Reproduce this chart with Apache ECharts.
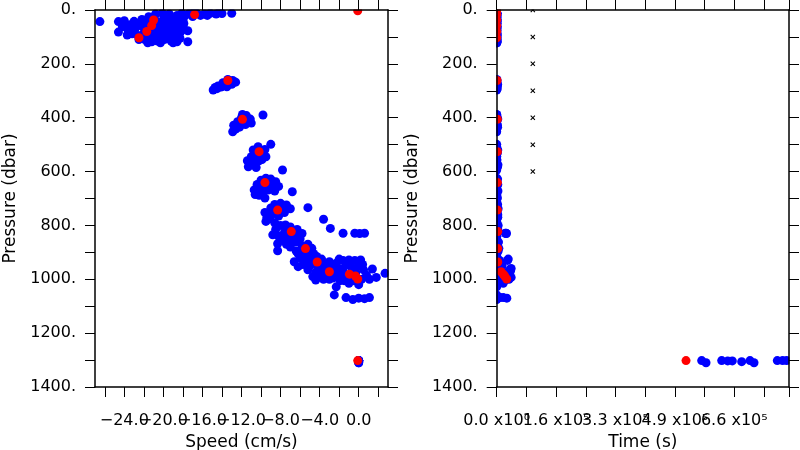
<!DOCTYPE html>
<html><head><meta charset="utf-8">
<script src="https://cdn.jsdelivr.net/npm/echarts@6/dist/echarts.min.js"></script>
<style>html,body{margin:0;padding:0;background:#fff}#c{width:800px;height:450px}</style>
</head><body><div id="c"></div>
<script>
// each point: [speed (cm/s), pressure (dbar), time (s)]
const blueSurface = [
[-26.5,43,0],
[-24.6,43,0],[-24.0,40,500],[-24.6,82,0],[-23.7,93,800],[-23.4,55,300],[-23.0,42,0],[-22.9,70,600],[-22.6,95,0],
[-24.2,62,0],[-23.6,75,0],[-23.2,88,0],[-22.6,50,0],[-22.5,110,0],
[-22.2,35,1000],[-22.2,60,0],[-22.0,85,400],[-21.9,110,0],
[-21.5,25,0],[-21.5,50,700],[-21.4,75,0],[-21.3,100,1200],[-21.2,118,0],
[-20.8,15,0],[-20.8,40,0],[-20.7,65,900],[-20.6,90,0],[-20.6,115,500],
[-20.1,12,0],[-20.0,35,600],[-20.0,60,0],[-19.9,85,0],[-19.9,110,1000],[-20.3,122,0],
[-19.4,15,300],[-19.3,40,0],[-19.3,65,0],[-19.2,90,700],[-19.2,115,0],
[-18.6,20,0],[-18.6,45,900],[-18.5,70,0],[-18.5,95,0],[-18.6,118,400],
[-18.1,12,0],[-18.0,35,0],[-18.2,60,500],[-18.3,85,0],[-18.3,105,0],
[-21.8,45,0],[-21.1,28,0],[-21.0,88,0],[-20.4,52,0],[-20.3,78,0],[-20.2,100,0],[-19.6,28,0],
[-19.6,52,0],[-19.6,78,0],[-19.5,102,0],[-18.9,30,0],[-18.9,58,0],[-18.9,82,0],[-18.9,108,0],
[-21.6,122,0],[-19.0,122,0],[-17.8,22,0],[-17.9,50,0],[-17.9,72,0],
[-17.5,77,0],[-17.5,118,1200],
[-17.4,14,0],[-17.0,24,600],[-16.6,12,0],[-16.2,20,0],[-15.8,15,800],[-15.2,12,0],[-14.6,15,0],[-14.0,13,500],
[-16.9,10,0],[-15.5,20,0],[-14.3,10,0],
[-13.0,12,0]
];
const blue260 = [
[-14.9,297,0],[-14.5,292,1500],[-14.1,286,0],[-13.7,280,2000],[-13.3,272,0],[-12.9,262,1000],
[-13.4,258,0],[-13.9,270,0],[-13.0,276,2500],[-14.4,282,0],[-12.6,268,0],[-14.7,288,0],[-13.5,285,0]
];
const blue410 = [
[-12.9,452,0],[-12.8,428,2000],[-12.4,415,0],[-12.0,400,1500],[-11.5,392,0],[-11.1,405,3000],[-11.0,420,0],
[-11.6,425,0],[-12.2,435,2500],[-12.6,442,0],[-11.9,388,0],[-11.8,412,0],[-12.3,422,0],[-11.4,410,0],[-9.8,390,0]
];
const blue530 = [
[-11.4,560,0],[-11.3,582,2500],[-11.0,545,0],[-10.8,520,3000],[-10.5,535,0],[-10.3,508,0],[-10.0,530,2000],
[-9.6,518,0],[-9.5,545,0],[-10.2,560,0],[-10.8,575,3500],[-9.9,555,0],[-10.5,585,0],[-10.6,555,0],
[-10.2,520,0],[-11.0,565,0],[-9.0,499,0]
];
const blue650 = [
[-10.7,668,0],[-10.4,648,3000],[-10.0,632,0],[-9.5,625,0],[-9.0,628,2500],[-8.5,638,0],[-8.2,655,0],
[-8.6,672,3500],[-9.2,668,0],[-9.8,680,0],[-9.6,698,2000],[-10.2,688,0],[-9.0,652,0],[-10.6,685,0],
[-9.8,655,0],[-10.3,668,0],[-8.8,662,0],[-9.4,640,0],
[-7.8,594,0],[-6.8,675,0]
];
const blue740 = [
[-9.6,752,0],[-9.4,770,3000],[-9.5,785,0],[-9.0,735,0],[-8.6,722,2500],[-8.0,718,0],[-7.4,724,0],
[-7.0,738,4000],[-7.6,752,0],[-8.2,765,0],[-8.6,790,0],[-8.9,760,3000],[-8.4,742,0],[-7.8,738,0],
[-9.1,775,0],[-8.0,752,0],[-5.2,734,0]
];
const blueDeep = [
[-3.6,777,0],[-2.9,811,0],[-1.6,829,0],[-0.4,829,24000],[0.1,830,27000],[0.6,829,26000],
[-8.8,835,0],[-8.5,815,0],[-8.0,800,4000],[-7.5,798,0],[-7.0,806,0],[-6.3,815,3000],[-5.8,830,0],
[-6.0,850,0],[-6.5,862,5000],[-7.3,842,0],[-7.8,855,0],[-8.3,868,0],[-7.0,880,0],[-6.4,895,4000],[-8.3,894,0],
[-8.2,840,0],[-7.6,825,0],[-6.8,828,0],[-6.4,840,0],[-7.0,858,0],[-7.4,870,0],
[-5.8,875,0],[-5.2,870,0],[-4.8,885,6000],[-4.6,905,0],[-5.5,905,0],[-6.0,920,0],[-6.6,935,0],
[-5.9,890,0],[-6.2,905,0],[-5.0,915,0],[-5.6,925,0],[-4.0,935,0],[-3.0,935,0],[-3.6,958,0],
[-5.3,930,8000],[-4.8,930,0],[-4.3,915,0],[-3.8,925,0],[-3.5,945,10000],[-4.2,955,0],[-5.0,950,0],
[-5.7,945,0],[-6.2,953,0],[-5.2,965,0],[-4.4,975,0],[-4.0,990,12000],[-4.4,1003,0],[-4.7,990,0],
[-3.6,970,0],[-3.2,960,0],[-2.8,950,15000],[-2.3,940,0],[-2.0,925,32000],[-1.6,930,0],[-1.0,928,0],
[-0.4,930,30000],[0.2,928,0],[-1.3,945,0],[-2.0,960,0],[-2.6,975,20000],[-2.2,990,0],[-3.0,1000,0],
[-3.4,985,0],[-1.6,970,38000],[-1.2,985,0],[-0.6,960,40000],[0.0,950,0],[0.5,965,36000],[0.8,985,0],
[-2.8,962,0],[-1.8,985,0],[-0.9,950,0],[-0.3,975,0],[0.4,945,0],[-2.6,995,0],[-1.9,1005,0],[-3.6,1000,0],
[0.3,1000,34000],[-0.5,1005,0],[-1.5,1005,22000],[-2.3,1028,0],[-2.5,1058,0],[1.4,962,0],[1.8,993,40000],
[2.7,978,0],[1.1,1000,0],[-1.0,1015,18000],[0.0,1020,0],
[-1.3,1068,18000],[-0.6,1075,0],[0.0,1070,28000],[0.6,1072,0],[1.1,1068,9000]
];
const blueBottom = [
[0.0,1302,567700],[0.0,1310,579700],[0.0,1302,623100],[0.0,1303,639700],[0.0,1303,652500],
[0.0,1306,678500],[0.0,1302,701500],[0.0,1310,712600],[0.0,1302,777100],[0.0,1302,791800],[0.0,1302,803000]
];
const redPoints = [
[-0.1,3,0],
[-16.8,17,0],[-21.0,37,0],[-21.2,58,0],[-21.7,80,0],[-22.5,103,0],
[-13.4,262,1000],[-11.9,406,2000],[-10.2,526,2000],[-9.6,641,2000],[-8.3,743,2000],[-6.9,823,3000],
[-5.45,886,3000],[-4.25,936,3000],[-3.0,972,12000],[-0.95,981,18000],[-0.34,988,22000],[-0.1,999,27700],
[-0.1,1302,524300]
];
// small black crosses on the time panel
const crossTime = 100000;
const crossPressures = [0,100,200,300,400,500,600];

// axis ticks / labels (labels split in two alternating sets so that overlapping labels are all drawn)
const speedTicks = [-26,-24,-22,-20,-18,-16,-14,-12,-10,-8,-6,-4,-2,0,2];
const speedLabelsA = [-24,-16,-8,0];
const speedLabelsB = [-20,-12,-4];
const pressureTicks = [0,100,200,300,400,500,600,700,800,900,1000,1100,1200,1300,1400];
const pressureLabels = [0,200,400,600,800,1000,1200,1400];
const timeLabelValuesA = [0,329000,658000];
const timeLabelValuesB = [164500,493500];
const timeLabelText = {0:'0.0 x10\u2070', 164500:'1.6 x10\u2075', 329000:'3.3 x10\u2075', 493500:'4.9 x10\u2075', 658000:'6.6 x10\u2075'};

const blueAll = [].concat(blueSurface, blue260, blue410, blue530, blue650, blue740, blueDeep, blueBottom);

const FONT = 'DejaVu Sans';
const txt = {color:'#000', fontFamily:FONT, fontSize:16};
const lineSt = {color:'#000', width:1.5};
const tickSt = {color:'#000', width:1};
const labelCommon = {hideOverlap:false, showMinLabel:true, showMaxLabel:true, interval:0};
const nameSt = {color:'#000', fontFamily:FONT, fontSize:17};

function pressureAxis(grid, pos, withLabels){
  return {
    gridIndex:grid, type:'value', position:pos, inverse:true, min:0, max:1400, z:10,
    axisLine:{show:true, onZero:false, lineStyle:lineSt},
    axisTick:{show:true, length:10, customValues:pressureTicks, lineStyle:tickSt},
    axisLabel:{show:withLabels, customValues:pressureLabels, margin:19, padding:[14,0,0,0],
      formatter:v=>v+'.', ...labelCommon, ...txt},
    splitLine:{show:false},
    name: withLabels ? 'Pressure (dbar)' : '', nameLocation:'middle', nameGap:76, nameTextStyle:nameSt
  };
}
function speedAxis(pos, labels, name, showLine){
  return {
    gridIndex:0, type:'value', position:pos, min:-27, max:3, z:10,
    axisLine:{show:showLine, onZero:false, lineStyle:lineSt},
    axisTick:{show:showLine, length:10, customValues:speedTicks, lineStyle:tickSt},
    axisLabel:{show:!!labels, customValues:labels || speedTicks, margin:26,
      formatter:v=>(v<0?'\u2212':'')+Math.abs(v).toFixed(1), ...labelCommon, ...txt},
    splitLine:{show:false},
    name: name || '', nameLocation:'middle', nameGap:46, nameTextStyle:nameSt
  };
}
function timeAxis(pos, labels, name, showLine){
  return {
    gridIndex:1, type:'value', position:pos, min:0, max:809500, interval:82250, z:10,
    axisLine:{show:showLine, onZero:false, lineStyle:lineSt},
    axisTick:{show:showLine, length:10, lineStyle:tickSt},
    axisLabel:{show:!!labels, customValues:labels || timeLabelValuesA, margin:26, ...labelCommon,
      formatter:v=>timeLabelText[v] || '', ...txt},
    splitLine:{show:false},
    name: name || '', nameLocation:'middle', nameGap:46, nameTextStyle:nameSt
  };
}

const g0 = {left:95, top:10, width:293, height:377, containLabel:false, outerBoundsMode:'none'};
const g1 = {left:496.7, top:10, width:292.3, height:377, containLabel:false, outerBoundsMode:'none'};
function covers(g){
  const r = g.left + g.width, b = g.top + g.height;
  const st = {fill:'#fff'};
  return [
    {type:'rect', z:5, shape:{x:g.left-12, y:0, width:g.width+24, height:g.top-0.5}, style:st, silent:true},
    {type:'rect', z:5, shape:{x:g.left-12, y:b+0.5, width:g.width+24, height:10}, style:st, silent:true},
    {type:'rect', z:5, shape:{x:g.left-12, y:0, width:11.5, height:b+10}, style:st, silent:true},
    {type:'rect', z:5, shape:{x:r+0.5, y:0, width:10, height:b+10}, style:st, silent:true}
  ];
}

const crossSym = 'path://M0,1.5L1.5,0L5,3.5L8.5,0L10,1.5L6.5,5L10,8.5L8.5,10L5,6.5L1.5,10L0,8.5L3.5,5Z';
const dot = 9;

const chart = echarts.init(document.getElementById('c'), null, {renderer:'canvas'});
chart.setOption({
  animation:false,
  backgroundColor:'#fff',
  grid:[g0, g1],
  graphic:{elements:[].concat(covers(g0), covers(g1))},
  xAxis:[
    speedAxis('bottom', speedLabelsA, 'Speed (cm/s)', true),
    speedAxis('top', null, '', true),
    timeAxis('bottom', timeLabelValuesA, 'Time (s)', true),
    timeAxis('top', null, '', true),
    speedAxis('bottom', speedLabelsB, '', false),
    timeAxis('bottom', timeLabelValuesB, '', false)
  ],
  yAxis:[pressureAxis(0,'left',true), pressureAxis(0,'right',false), pressureAxis(1,'left',true), pressureAxis(1,'right',false)],
  series:[
    {type:'scatter', xAxisIndex:0, yAxisIndex:0, symbolSize:dot, itemStyle:{color:'#0000ff', opacity:1},
      data:blueAll.map(d=>[d[0],d[1]])},
    {type:'scatter', xAxisIndex:0, yAxisIndex:0, symbolSize:dot, itemStyle:{color:'#ff0000', opacity:1},
      data:redPoints.map(d=>[d[0],d[1]])},
    {type:'scatter', xAxisIndex:2, yAxisIndex:2, symbolSize:dot, itemStyle:{color:'#0000ff', opacity:1},
      data:blueAll.map(d=>[d[2],d[1]])},
    {type:'scatter', xAxisIndex:2, yAxisIndex:2, symbolSize:dot, itemStyle:{color:'#ff0000', opacity:1},
      data:redPoints.map(d=>[d[2],d[1]])},
    {type:'scatter', xAxisIndex:2, yAxisIndex:2, symbol:crossSym, symbolSize:5, itemStyle:{color:'#000', opacity:1},
      data:crossPressures.map(p=>[crossTime,p])}
  ]
});
</script>
</body></html>
